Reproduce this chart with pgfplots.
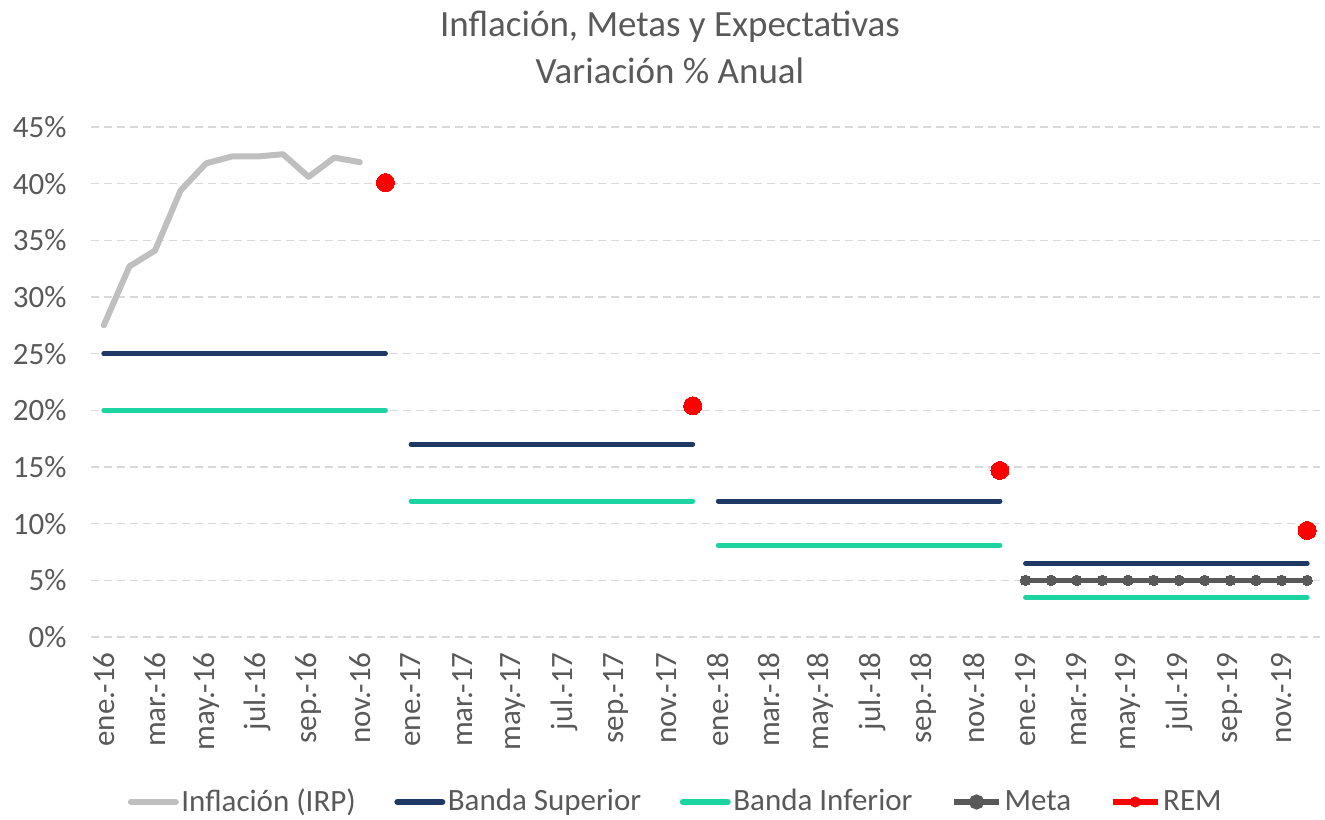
\documentclass[border=0pt]{standalone}
\usepackage{pgfplots}
\pgfplotsset{compat=1.18}
\usepackage{fontspec}
\setmainfont{Carlito}
\definecolor{infl}{HTML}{BFBFBF}
\definecolor{bsup}{HTML}{1F3864}
\definecolor{binf}{HTML}{1DD3A0}
\definecolor{metac}{HTML}{595959}
\definecolor{txt}{HTML}{595959}
\definecolor{gridc}{HTML}{D9D9D9}
\begin{document}
\begin{tikzpicture}
\path[use as bounding box] (-36.4pt,-72.8pt) rectangle (493.6pt,254.8pt);
\begin{axis}[
  scale only axis, width=491.6pt, height=204pt,
  xmin=-0.5, xmax=47.5, ymin=0, ymax=45,
  axis line style={draw=none},
  tick style={draw=none},
  ymajorgrids, grid style={gridc, line width=0.6pt, dash pattern=on 3.2pt off 2pt},
  ytick={0,5,10,15,20,25,30,35,40,45},
  yticklabels={0\%,5\%,10\%,15\%,20\%,25\%,30\%,35\%,40\%,45\%},
  xtick={0,2,...,46},
  xticklabels={ene.-16,mar.-16,may.-16,jul.-16,sep.-16,nov.-16,ene.-17,mar.-17,may.-17,jul.-17,sep.-17,nov.-17,ene.-18,mar.-18,may.-18,jul.-18,sep.-18,nov.-18,ene.-19,mar.-19,may.-19,jul.-19,sep.-19,nov.-19},
  x tick label style={rotate=90, anchor=east, inner sep=0pt, font=\fontsize{12.4}{14}\selectfont, text=txt},
  y tick label style={anchor=east, inner sep=0pt, font=\fontsize{12.4}{14}\selectfont, text=txt},
  xticklabel shift=6pt, yticklabel shift=9.6pt,
  unbounded coords=jump,
  legend style={at={(0.476,-0.3235)}, anchor=center, draw=none, fill=none,
    legend columns=5, font=\fontsize{12.4}{14}\selectfont, text=txt,
    /tikz/every even column/.append style={column sep=14.4pt},
    inner sep=0pt, nodes={inner sep=1pt}},
  legend cell align=left,
]
\addplot[infl, line width=2.4pt, line join=round, line cap=round,
  legend image code/.code={\draw[infl, line width=2.4pt] (0pt,0pt) -- (18pt,0pt);}]
  table {
x y
0 27.5
1 32.7
2 34.1
3 39.4
4 41.8
5 42.4
6 42.4
7 42.6
8 40.6
9 42.3
10 41.9
};
\addlegendentry{Inflación (IRP)}
\addplot[bsup, line width=2pt, line cap=round,
  legend image code/.code={\draw[bsup, line width=2.4pt] (0pt,0pt) -- (18pt,0pt);}]
  table {
x y
0 25
11 25
11.5 nan
12 17
23 17
23.5 nan
24 12
35 12
35.5 nan
36 6.5
47 6.5
};
\addlegendentry{Banda Superior}
\addplot[binf, line width=2pt, line cap=round,
  legend image code/.code={\draw[binf, line width=2.4pt] (0pt,0pt) -- (18pt,0pt);}]
  table {
x y
0 20
11 20
11.5 nan
12 12
23 12
23.5 nan
24 8.1
35 8.1
35.5 nan
36 3.5
47 3.5
};
\addlegendentry{Banda Inferior}
\addplot[metac, line width=2pt, mark=*, mark size=2.1pt, mark options={fill=metac, draw=metac, line width=0pt},
  legend image code/.code={\draw[metac, line width=2.4pt] (0pt,0pt) -- (18pt,0pt); \fill[metac] (9pt,0pt) circle (2pt);}]
  table {
x y
36 5
37 5
38 5
39 5
40 5
41 5
42 5
43 5
44 5
45 5
46 5
47 5
};
\addlegendentry{Meta}
\addplot[red, only marks, mark=*, mark size=3.6pt, mark options={fill=red, draw=red, line width=0pt},
  legend image code/.code={\draw[red, line width=2.4pt] (0pt,0pt) -- (18pt,0pt); \fill[red] (9pt,0pt) circle (2pt);}]
  table {
x y
11 40.1
23 20.4
35 14.7
47 9.4
};
\addlegendentry{REM}
\end{axis}
\node[text=txt, font=\fontsize{14.8}{18}\selectfont] at (231.6pt,244pt) {Inflación, Metas y Expectativas};
\node[text=txt, font=\fontsize{14.8}{18}\selectfont] at (231.6pt,226.4pt) {Variación \% Anual};
\end{tikzpicture}
\end{document}
